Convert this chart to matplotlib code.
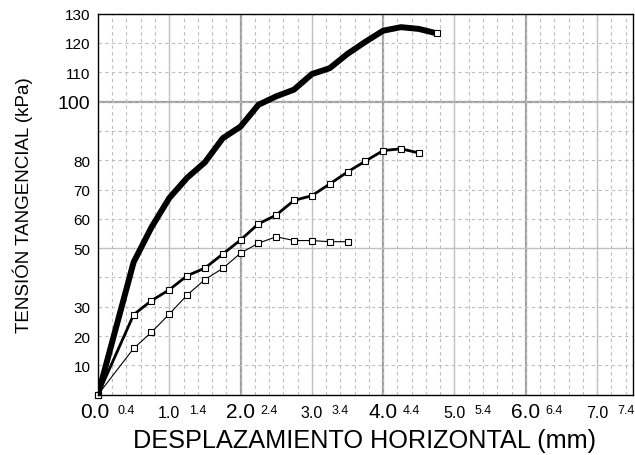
import matplotlib
matplotlib.use("Agg")
import matplotlib.pyplot as plt
import matplotlib.transforms as mtransforms
import numpy as np

plt.rcParams['font.family'] = ['Liberation Sans', 'DejaVu Sans']

# ---- data ----
desp = [0, 0.5, 0.75, 1.0, 1.25, 1.5, 1.75, 2.0, 2.25, 2.5, 2.75, 3.0,
        3.25, 3.5, 3.75, 4.0, 4.25, 4.5, 4.75]
tens_alta = [0, 45.2, 57.1, 67.1, 74.0, 79.3, 87.5, 91.5, 98.9, 101.8, 104.1,
             109.4, 111.4, 116.3, 120.4, 124.2, 125.4, 124.8, 123.3]
tens_media = [0, 27.3, 32.1, 35.8, 40.6, 43.2, 48.0, 52.8, 58.3, 61.3, 66.3,
              67.9, 71.9, 76.0, 79.7, 83.3, 83.9, 82.5]
tens_baja = [0, 15.8, 21.3, 27.5, 34.0, 39.3, 43.1, 48.3, 51.7, 53.9, 52.6,
             52.6, 52.2, 52.2]

# gridlines every 10 kPa; 0, 40 and 90 carry no label in the original
y_ticks = [0, 10, 20, 30, 40, 50, 60, 70, 80, 90, 100, 110, 120, 130]
y_labels = ['', '10', '20', '30', '', '50', '60', '70', '80', '', '100', '110', '120', '130']
x_ticks = [0.0, 0.4, 1.0, 1.4, 2.0, 2.4, 3.0, 3.4, 4.0, 4.4, 5.0, 5.4, 6.0, 6.4, 7.0, 7.4]
x_labels = ['0.0', '0.4', '1.0', '1.4', '2.0', '2.4', '3.0', '3.4', '4.0', '4.4',
            '5.0', '5.4', '6.0', '6.4', '7.0', '7.4']

fig = plt.figure(figsize=(6.35, 4.56), dpi=100)
ax = fig.add_axes([0.1543, 0.1322, 0.8421, 0.8356])
ax.set_xlim(0, 7.5)
ax.set_ylim(0, 130)

# grid: dashed every 0.2 mm / 10 kPa, solid at whole mm and at 50, 100
ax.set_xticks(np.arange(0, 7.5, 0.2), minor=True)
ax.set_yticks(y_ticks)
ax.set_yticklabels(y_labels)
ax.grid(axis='x', which='minor', ls=(0, (3, 3)), color='#bdbdbd', lw=0.8)
ax.grid(axis='y', which='major', ls=(0, (3, 3)), color='#bdbdbd', lw=0.8)
for xv in range(1, 8):
    if xv % 2 == 0:
        ax.axvline(xv, color='#a0a0a0', lw=1.6, zorder=1)
    else:
        ax.axvline(xv, color='#c4c4c4', lw=1.0, zorder=1)
ax.axhline(50, color='#c4c4c4', lw=1.0, zorder=1)
ax.axhline(100, color='#a0a0a0', lw=1.6, zorder=1)

sq = dict(marker='s', ms=4.5, mfc='white', mec='black', mew=0.8, clip_on=False)
ax.plot(desp[:len(tens_baja)], tens_baja, color='black', lw=0.8, zorder=3, **sq)
ax.plot(desp[:len(tens_media)], tens_media, color='black', lw=2.0, zorder=3, **sq)
ax.plot(desp, tens_alta, color='black', lw=4.3, zorder=4, solid_joinstyle='round')
ax.plot(desp[-1:], tens_alta[-1:], ls='none', zorder=5, **sq)

ax.tick_params(axis='y', which='both', length=0, pad=5.4, labelsize=11)
for lab in ax.get_yticklabels():
    if lab.get_text() == '100':
        lab.set_fontsize(14)

# x ticks drawn as text with three sizes
ax.set_xticks([])
ax.tick_params(axis='x', which='both', length=0)
trans = mtransforms.blended_transform_factory(ax.transData, fig.transFigure)
for xv, lab in zip(x_ticks, x_labels):
    if lab.endswith('.4'):
        ax.text(xv, 1 - 414.3 / 456, lab, transform=trans, ha='center', va='baseline', fontsize=9)
    elif int(round(xv)) % 2 == 0:
        dx = -0.04 if xv == 0 else 0.0
        ax.text(xv + dx, 1 - 418.5 / 456, lab, transform=trans, ha='center', va='baseline', fontsize=15)
    else:
        ax.text(xv, 1 - 417.7 / 456, lab, transform=trans, ha='center', va='baseline', fontsize=11.5)

for sp in ax.spines.values():
    sp.set_color('black')
    sp.set_linewidth(1.0)
    sp.set_zorder(6)

fig.text(365 / 635, 1 - 448.3 / 456, 'DESPLAZAMIENTO HORIZONTAL (mm)', ha='center', va='baseline', fontsize=18.2)
fig.text(23 / 635, 1 - 205 / 456, 'TENSIÓN TANGENCIAL (kPa)', ha='center', va='center',
         rotation=90, fontsize=13.5)

fig.savefig('out.png', dpi=100)
